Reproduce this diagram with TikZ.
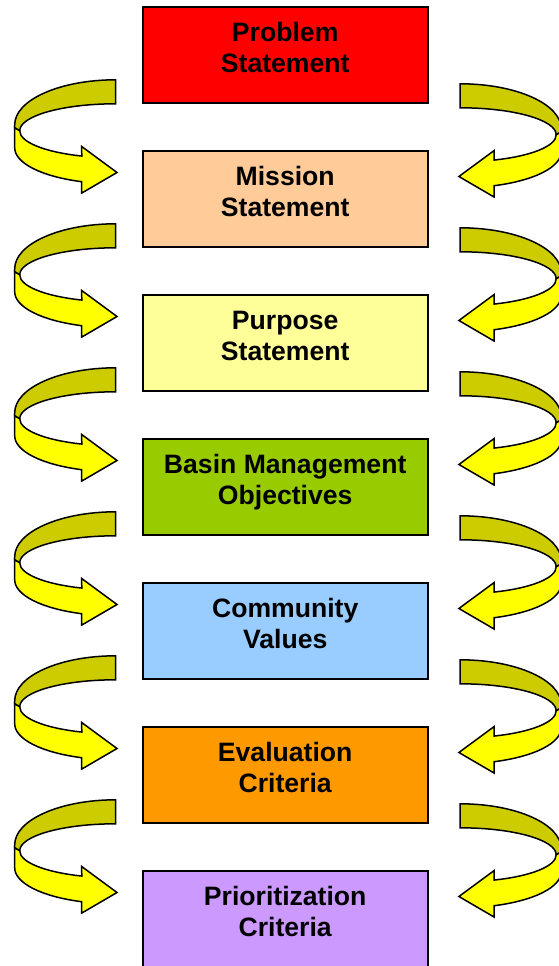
\documentclass[tikz,border=0pt]{standalone}
\usepackage{fontspec}
\setmainfont{Liberation Sans}
\usetikzlibrary{calc}

\definecolor{ribbonback}{HTML}{CCCC00}
\definecolor{ribbonfront}{HTML}{FFFF00}
\definecolor{fillproblem}{HTML}{FF0000}
\definecolor{fillmission}{HTML}{FFCC99}
\definecolor{fillpurpose}{HTML}{FFFF99}
\definecolor{fillbasin}{HTML}{99CC00}
\definecolor{fillcommunity}{HTML}{99CCFF}
\definecolor{fillevaluation}{HTML}{FF9900}
\definecolor{fillprior}{HTML}{CC99FF}

\tikzset{
  stagebox/.style={draw=black, line width=2pt, minimum width=285pt,
    minimum height=96pt, inner sep=0pt},
  stagetext/.style={anchor=base, inner sep=0pt,
    font=\fontsize{26.6}{30.5}\selectfont\bfseries},
  ribbonline/.style={draw=black, line width=1.5pt, line join=miter},
  % curved ribbon arrow; origin = upper corner of the tail end
  curvearrow/.pic={
    % back (upper) half of the ribbon
    \path[ribbonline, fill=ribbonback]
      (0,0) arc[start angle=270, end angle=180, x radius=101, y radius=45]
      -- (-101,48) -- (-96,51)
      arc[start angle=180, end angle=270, x radius=96, y radius=27]
      -- cycle;
    % front (lower) half with the arrow head
    \path[ribbonline, fill=ribbonfront]
      (-96,51) arc[start angle=180, end angle=110.7, x radius=96, y radius=27]
      -- (-34,66.7) -- (1.3,92.7) -- (-34,113.3) -- (-34,101.9)
      arc[start angle=109.67, end angle=180, x radius=101, y radius=36]
      -- (-101,48) -- cycle;
  }
}

\begin{document}
\begin{tikzpicture}[x=1pt, y=-1pt]
  \path[use as bounding box, fill=white] (0,0) rectangle (559,966);

  \foreach \i/\col/\first/\second in {
      1/fillproblem/Problem/Statement,
      2/fillmission/Mission/Statement,
      3/fillpurpose/Purpose/Statement,
      4/fillbasin/Basin Management/Objectives,
      5/fillcommunity/Community/Values,
      6/fillevaluation/Evaluation/Criteria,
      7/fillprior/Prioritization/Criteria} {
    \node[stagebox, fill=\col] (b\i) at (285.2, {55.3 + 144*(\i-1)}) {};
    \node[stagetext] (t\i) at ($(b\i.north)+(0,35.6)$)
      {\begin{tabular}[t]{@{}c@{}}\first\\\second\end{tabular}};
  }

  \foreach \i in {1,...,6} {
    \pic at ($(b\i.south west)+(-26,-24.5)$) {curvearrow};
    \pic[xscale=-1] at ($(b\i.south east)+(31.5,-20.5)$) {curvearrow};
  }
\end{tikzpicture}
\end{document}
